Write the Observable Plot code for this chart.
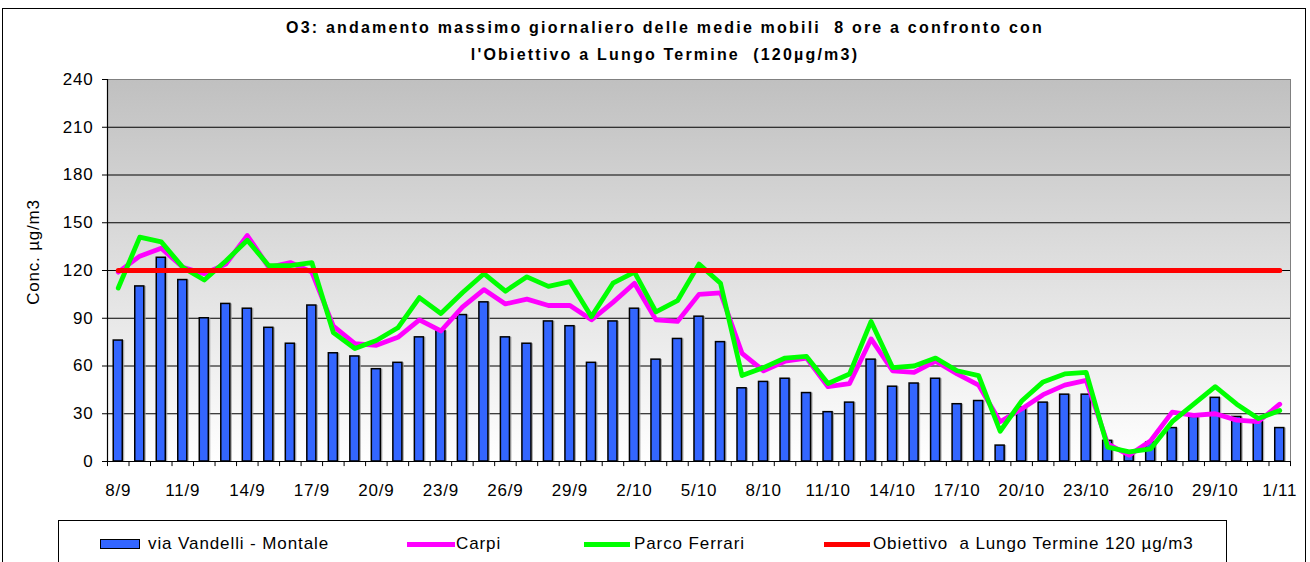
<!DOCTYPE html>
<html><head><meta charset="utf-8">
<script src="https://cdn.jsdelivr.net/npm/d3@7"></script>
<script src="https://cdn.jsdelivr.net/npm/@observablehq/plot@0.6"></script>
<style>
body{margin:0;background:#fff;font-family:"Liberation Sans",Arial,sans-serif;color:#000;}
#wrap{position:relative;width:1310px;height:562px;overflow:hidden;background:#fff;}
#outer{position:absolute;left:2px;top:8px;width:1304px;height:600px;border:1.5px solid #000;box-sizing:border-box;}
#title{position:absolute;left:0;width:1330px;top:14px;text-align:center;font-weight:bold;font-size:16px;letter-spacing:2.2px;line-height:27px;white-space:pre;}
#chart{position:absolute;left:0;top:0;}
#chart svg text{letter-spacing:0.8px;}
#ylab{position:absolute;left:34px;top:252px;transform:translate(-50%,-50%) rotate(-90deg);white-space:nowrap;font-size:17px;letter-spacing:0.8px;}
#legend{position:absolute;left:58px;top:520px;width:1169px;height:60px;border:1px solid #000;box-sizing:border-box;background:#fff;}
.li{position:absolute;white-space:pre;font-size:17px;letter-spacing:0.9px;line-height:20px;top:13px;}
.sw{position:absolute;}
</style></head>
<body>
<div id="wrap">
  <div id="outer"></div>
  <div id="title"></div>
  <div id="chart"></div>
  <div id="ylab"></div>
  <div id="legend"></div>
</div>
<script>
// ---- data ----
const dates = ["8/9","9/9","10/9","11/9","12/9","13/9","14/9","15/9","16/9","17/9","18/9","19/9","20/9","21/9","22/9","23/9","24/9","25/9","26/9","27/9","28/9","29/9","30/9",
"1/10","2/10","3/10","4/10","5/10","6/10","7/10","8/10","9/10","10/10","11/10","12/10","13/10","14/10","15/10","16/10","17/10","18/10","19/10","20/10","21/10","22/10","23/10","24/10","25/10","26/10","27/10","28/10","29/10","30/10","31/10","1/11"];
const vandelli = [76,110,128,114,90,99,96,84,74,98,68,66,58,62,78,82,92,100,78,74,88,85,62,88,96,64,77,91,75,46,50,52,43,31,37,64,47,49,52,36,38,10,34,37,42,42,13,6,12,21,28,40,28,25,21];
const carpi = [119,129,134,122,118,124,142,122,125,119,85,74,73,78,89,82,97,108,99,102,98,98,89,100,112,89,88,105,106,68,57,63,65,47,49,77,57,56,63,55,48,25,33,42,48,51,11,4,13,31,29,30,26,25,36];
const ferrari = [109,141,138,122,114,126,139,123,123,125,81,71,76,84,103,93,106,118,107,116,110,113,91,112,119,94,101,124,112,54,59,65,66,49,55,88,59,60,65,57,54,19,38,50,55,56,9,6,8,25,36,47,36,27,32];
const objective = 120;
const xTickLabels = ["8/9","11/9","14/9","17/9","20/9","23/9","26/9","29/9","2/10","5/10","8/10","11/10","14/10","17/10","20/10","23/10","26/10","29/10","1/11"];
const yTicks = [0,30,60,90,120,150,180,210,240];
const seriesNames = ["via Vandelli - Montale","Carpi","Parco Ferrari","Obiettivo  a Lungo Termine 120 \u00b5g/m3"];
const titleLines = ["O3: andamento massimo giornaliero delle medie mobili  8 ore a confronto con","l'Obiettivo a Lungo Termine  (120\u00b5g/m3)"];
const yLabel = "Conc. \u00b5g/m3";

const rows = dates.map((d,i)=>({date:d, vandelli:vandelli[i], carpi:carpi[i], ferrari:ferrari[i], obj:objective}));

// ---- layout ----
const W=1310, H=562, mL=107, mR=20, mT=79, mB=101;
const pIn=0.58, pOut=0.29;
const step=(W-mL-mR)/(dates.length - pIn + 2*pOut);

const chart = Plot.plot({
  width:W, height:H, marginLeft:mL, marginRight:mR, marginTop:mT, marginBottom:mB,
  style:{fontFamily:"'Liberation Sans', Arial, sans-serif", fontSize:"17px", color:"#000", background:"transparent"},
  x:{type:"band", domain:dates, paddingInner:pIn, paddingOuter:pOut, round:false, axis:null, label:null},
  y:{domain:[0,240], axis:null, label:null},
  marks:[
    Plot.frame({fill:"url(#bgGrad)", stroke:"#808080", strokeWidth:1}),
    Plot.ruleY(yTicks.filter(v=>v>0 && v<240), {stroke:"#000", strokeWidth:1}),
    Plot.barY(rows, {x:"date", y:"vandelli", fill:"#9a9a9a", dx:2, fillOpacity:0.8}),
    Plot.barY(rows, {x:"date", y:"vandelli", fill:"#3366ff", stroke:"#000", strokeWidth:1.5}),
    Plot.ruleX([0], {x:()=>dates[0], y1:0, y2:240, dx:-step/2, stroke:"#000", strokeWidth:1.2}),
    Plot.ruleY([0], {stroke:"#000", strokeWidth:1.2}),
    Plot.lineY(rows, {x:"date", y:"carpi", stroke:"#ff00ff", strokeWidth:4.8, strokeLinejoin:"round"}),
    Plot.lineY(rows, {x:"date", y:"ferrari", stroke:"#00ff00", strokeWidth:4.8, strokeLinejoin:"round"}),
    Plot.lineY(rows, {x:"date", y:"obj", stroke:"#ff0000", strokeWidth:5, strokeLinecap:"round"}),
    Plot.ruleX(dates, {x:d=>d, y1:0, y2:-3.2, dx:-step/2, stroke:"#000", strokeWidth:1, clip:false}),
    Plot.ruleX([dates[dates.length-1]], {x:d=>d, y1:0, y2:-3.2, dx:step/2, stroke:"#000", strokeWidth:1, clip:false}),
    Plot.axisY(yTicks, {tickSize:5, tickPadding:9, fontSize:17, stroke:"#000", label:null}),
    Plot.axisX(xTickLabels, {tickSize:0, tickPadding:22, fontSize:17, label:null})
  ]
});
// gradient definition for the plot-area background
const defs = d3.select(chart).insert("defs", ":first-child");
const g = defs.append("linearGradient").attr("id","bgGrad").attr("x1",0).attr("y1",0).attr("x2",0).attr("y2",1);
g.append("stop").attr("offset","0%").attr("stop-color","#c0c0c0");
g.append("stop").attr("offset","100%").attr("stop-color","#ffffff");
document.getElementById("chart").appendChild(chart);

document.getElementById("title").textContent = titleLines.join("\n");
document.getElementById("ylab").textContent = yLabel;

// ---- legend ----
const leg = document.getElementById("legend");
const legItems = [
  {sw:{left:41,top:18,width:38,height:8,background:"#3366ff",border:"1.5px solid #000"}, text:89},
  {sw:{left:348,top:20.5,width:48,height:5,background:"#ff00ff"}, text:397},
  {sw:{left:525,top:20.5,width:46,height:5,background:"#00ff00"}, text:575},
  {sw:{left:765,top:20.5,width:46,height:5,background:"#ff0000"}, text:814}
];
legItems.forEach((it,i)=>{
  const s=document.createElement("div"); s.className="sw";
  Object.entries(it.sw).forEach(([k,v])=>s.style[k]=typeof v==="number"?v+"px":v);
  leg.appendChild(s);
  const t=document.createElement("div"); t.className="li"; t.style.left=it.text+"px"; t.textContent=seriesNames[i];
  leg.appendChild(t);
});
</script>
</body></html>
